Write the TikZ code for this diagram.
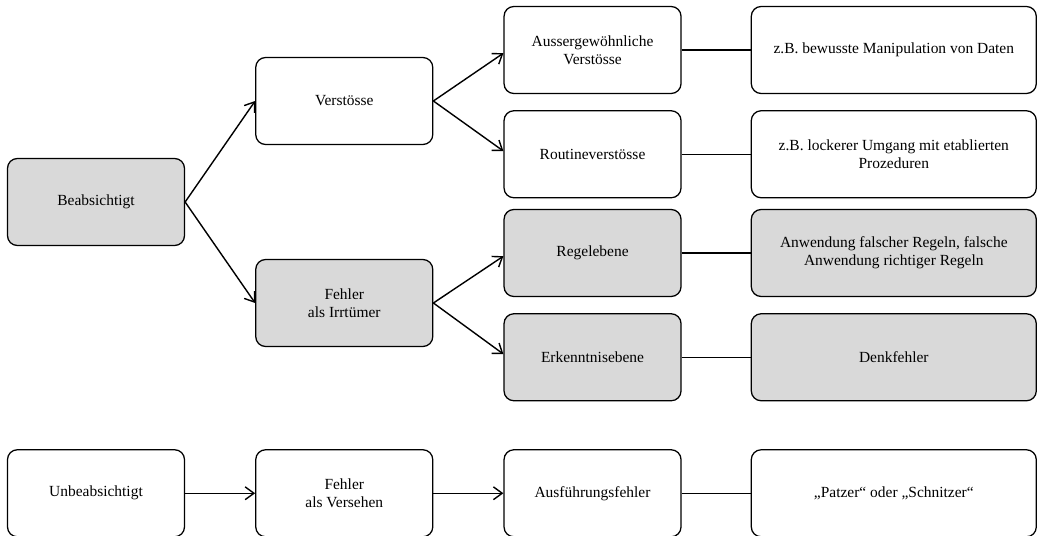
\documentclass[tikz,border=0pt]{standalone}
\usepackage{fontspec}
\setmainfont{Liberation Serif}
\usepackage{xcolor}
\usetikzlibrary{arrows.meta, positioning}

\definecolor{boxgray}{HTML}{D9D9D9}

\begin{document}
\begin{tikzpicture}[node distance=0.4cm and 1.75cm,
  box/.style={rectangle, draw, line width=0.9pt, rounded corners=7pt, fill=white, minimum width=4.425cm, minimum height=2.175cm, align=center, font=\fontsize{11}{13}\selectfont},
  graybox/.style={box, fill=boxgray},
  widebox/.style={box, minimum width=7.125cm},
  widegray/.style={graybox, minimum width=7.125cm},
  arrow/.style={-{Straight Barb[length=2.2mm, width=3.2mm]}, line width=1pt},
  link/.style={line width=0.8pt}]
  \useasboundingbox (-2.4,-8.35) rectangle (23.675,5.05);
  % Beabsichtigt
  \node[graybox] (beab) {Beabsichtigt};
  \node[box, right=1.75cm of beab, yshift=2.525cm] (verst) {Verstösse};
  \node[graybox, right=1.75cm of beab, yshift=-2.525cm] (irrtum) {Fehler\\als Irrtümer};
  % Verstösse
  \node[box, right=1.75cm of verst, yshift=1.275cm] (ausserg) {Aussergewöhnliche\\Verstösse};
  \node[box, below=of ausserg] (routine) {Routineverstösse};
  \node[widebox, right=1.725cm of ausserg] (manip) {z.B. bewusste Manipulation von Daten};
  \node[widebox, right=1.725cm of routine] (umgang) {z.B. lockerer Umgang mit etablierten\\Prozeduren};
  % Irrtümer
  \node[graybox, right=1.75cm of irrtum, yshift=1.25cm] (regel) {Regelebene};
  \node[graybox, below=of regel] (erkennt) {Erkenntnisebene};
  \node[widegray, right=1.725cm of regel] (anwend) {Anwendung falscher Regeln, falsche\\Anwendung richtiger Regeln};
  \node[widegray, right=1.725cm of erkennt] (denk) {Denkfehler};
  % Unbeabsichtigt
  \node[box, below=5.075cm of beab] (unbeab) {Unbeabsichtigt};
  \node[box, right=of unbeab] (versehen) {Fehler\\als Versehen};
  \node[box, right=of versehen] (ausf) {Ausführungsfehler};
  \node[widebox, right=1.725cm of ausf] (patzer) {„Patzer“ oder „Schnitzer“};
  % Arrows
  \draw[arrow] (beab.east) -- (verst.west);
  \draw[arrow] (beab.east) -- (irrtum.west);
  \draw[arrow] (verst.east) -- ([yshift=-0.08cm]ausserg.west);
  \draw[arrow] (verst.east) -- ([yshift=0.08cm]routine.west);
  \draw[arrow] (irrtum.east) -- ([yshift=-0.08cm]regel.west);
  \draw[arrow] (irrtum.east) -- ([yshift=0.08cm]erkennt.west);
  \draw[arrow] (unbeab) -- (versehen);
  \draw[arrow] (versehen) -- (ausf);
  % Lines
  \draw[link] (ausserg) -- (manip);
  \draw[link] (routine) -- (umgang);
  \draw[link] (regel) -- (anwend);
  \draw[link] (erkennt) -- (denk);
  \draw[link] (ausf) -- (patzer);
\end{tikzpicture}
\end{document}
